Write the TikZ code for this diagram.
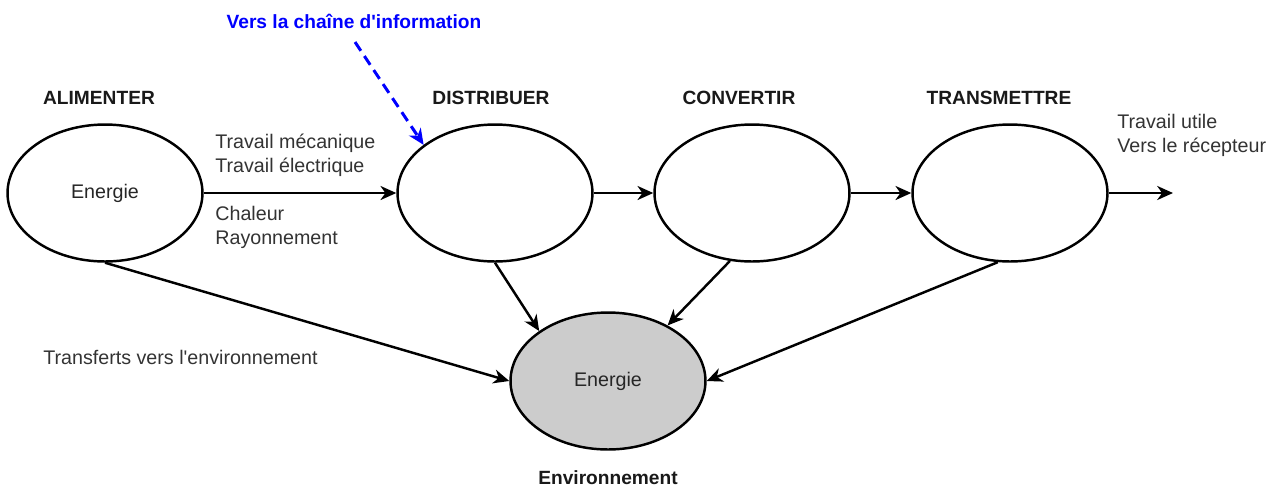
\documentclass[tikz,border=0pt]{standalone}
\usepackage{fontspec}
\setmainfont{Liberation Sans}
\usetikzlibrary{arrows.meta,shapes.geometric}

\tikzset{
  bloc/.style={ellipse, draw, line width=1.4pt, minimum width=3.9cm, minimum height=2.74cm, inner sep=0pt, text=black!85},
  titre/.style={font=\fontsize{10.9}{13.4}\selectfont\bfseries, text=black!90},
  texte/.style={text=black!80, align=left, anchor=west, inner xsep=0pt},
  fleche/.style={-{Stealth[length=9pt,width=8pt,inset=2.8pt]}, line width=1.4pt},
}

\begin{document}
\begin{tikzpicture}[x=0.02cm, y=-0.02cm, font=\fontsize{11.2}{13.7}\selectfont]
		%%%%% START %%%%%
		\useasboundingbox (0, 0) rectangle (1282, 488);
		
		\node[titre] (alim) at (99, 98) {ALIMENTER};
		\node[titre] (distr) at (491, 98) {DISTRIBUER};
		\node[titre] (conv) at (739, 98) {CONVERTIR};
		\node[titre] (trans) at (999, 98) {TRANSMETTRE};
		\node[titre] (envtitre) at (608, 478) {Environnement};
		\node[titre, text=blue] (info) at (354, 21) {Vers la chaîne d\textquotesingle information};
		
		\node[bloc] (e1) at (105, 193) {Energie};
		\node[bloc] (e2) at (495, 193) {};
		\node[bloc] (e3) at (752, 193) {};
		\node[bloc] (e4) at (1010, 193) {};
		\node[bloc, fill=black!20] (env) at (608, 381) {Energie};
		
		\node[texte] (travail) at (215, 155) {Travail mécanique\\Travail électrique};
		\node[texte] (chaleur) at (215, 227) {Chaleur\\Rayonnement};
		\node[texte] (utile) at (1117, 135) {Travail utile\\Vers le récepteur};
		\node[texte] (pertes) at (43, 357) {Transferts vers l\textquotesingle environnement};
		
		\coordinate (sortie) at (1173, 193);
		\coordinate (infodep) at (355, 42);
		
		\draw[fleche] (e1) -- (e2);
		\draw[fleche] (e2) -- (e3);
		\draw[fleche] (e3) -- (e4);
		\draw[fleche] (e4) -- (sortie);
		
		\draw[fleche] (e1.south) -- (env.west);
		\draw[fleche] (e2.south) -- (env.144);
		\draw[fleche] (e3.252) -- (env.43);
		\draw[fleche] (e4.260) -- (env.east);
		
		\draw[fleche, blue, line width=1.7pt, dash pattern=on 6pt off 3.6pt] (infodep) -- (e2.146);
		
		%%%%% END %%%%%
\end{tikzpicture}
\end{document}
